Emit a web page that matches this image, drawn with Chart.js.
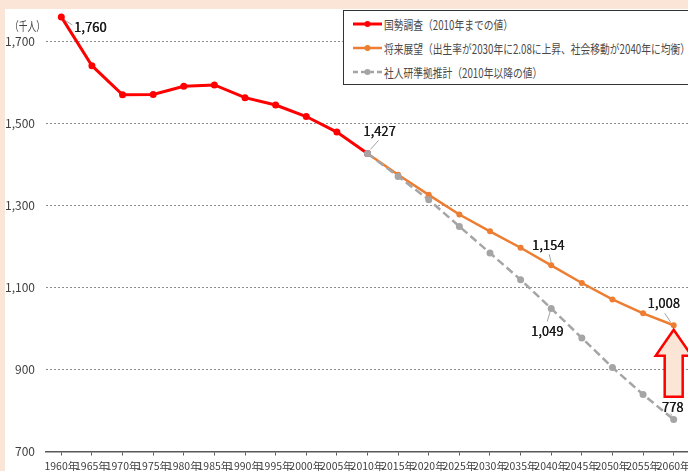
<!DOCTYPE html>
<html><head><meta charset="utf-8">
<script src="https://cdn.jsdelivr.net/npm/chart.js@4.4.1/dist/chart.umd.min.js"></script>
<style>
html,body{margin:0;padding:0;background:#fbe5d6;}
#wrap{position:relative;width:688px;height:471px;overflow:hidden;}
#c{position:absolute;left:0;top:0;}
#unit{position:absolute;left:10px;top:16px;font:12.5px 'Noto Sans CJK JP';color:#404040;white-space:nowrap;transform:scaleX(0.7);transform-origin:left center;}
#legend{position:absolute;left:343px;top:10px;width:360px;height:75px;border:1.5px solid #333;background:#fff;box-sizing:border-box;}
.row{position:absolute;left:9px;height:20px;display:flex;align-items:center;}
.row svg{flex:none;}
.txt{margin-left:2px;font:12.5px 'Noto Sans CJK JP';color:#4a4a4a;transform:scaleX(0.78);transform-origin:left center;white-space:nowrap;}
</style></head>
<body>
<div id="wrap">
<canvas id="c" width="693" height="471"></canvas>
<div id="unit">（千人）</div>
<div id="legend"></div>
</div>
<script>
const years = ['1960年','1965年','1970年','1975年','1980年','1985年','1990年','1995年','2000年','2005年','2010年','2015年','2020年','2025年','2030年','2035年','2040年','2045年','2050年','2055年','2060年'];
const censusLabel = '国勢調査（2010年までの値）';
const outlookLabel = '将来展望（出生率が2030年に2.08に上昇、社会移動が2040年に均衡）';
const ipssLabel = '社人研準拠推計（2010年以降の値）';
const census = [1760,1641,1570,1571,1591,1594,1563,1545,1517,1479,1427,null,null,null,null,null,null,null,null,null,null];
const outlook = [null,null,null,null,null,null,null,null,null,null,1427,1375,1326,1278,1237,1197,1154,1111,1071,1037,1008];
const ipss = [null,null,null,null,null,null,null,null,null,null,1427,1371,1314,1249,1184,1119,1049,977,905,839,778];
const yTicks = [700,900,1100,1300,1500,1700];

const RED='#ff0000', ORANGE='#ed7d31', GREY='#a5a5a5', PEACH='#fbe5d6';
const NARROW="'Liberation Sans Narrow','Noto Sans CJK JP',sans-serif";

// annotations: dataset index, point index, label offset, leader line (styles only)
const notes = [
  {ds:0,i:0,  dx:29, dy:10, l:[3,3,11,8]},
  {ds:0,i:10, dx:12, dy:-22,l:[3,-4,11,-13]},
  {ds:1,i:16, dx:-3, dy:-20,l:[0,-3,-2,-11]},
  {ds:1,i:20, dx:-10,dy:-22,l:[-3,-3,-9,-12]},
  {ds:2,i:16, dx:-4, dy:23, l:[-1,3,-4,13]},
  {ds:2,i:20, dx:-1, dy:-12,l:[-2,-4,-3,-6]}
];

const bgPlugin = {
  id:'bg',
  beforeDraw(chart){
    const c=chart.ctx; c.save();
    c.fillStyle=PEACH; c.fillRect(0,0,chart.width,chart.height);
    c.fillStyle='#fff'; c.fillRect(5,9,chart.width,chart.height);
    c.restore();
  }
};
const notePlugin = {
  id:'notes',
  afterDatasetsDraw(chart){
    const c=chart.ctx; c.save();
    const p = chart.getDatasetMeta(1).data[20];
    const x=p.x, y=p.y+4.5;
    c.beginPath();
    c.moveTo(x,y); c.lineTo(x+18,y+26); c.lineTo(x+9,y+26); c.lineTo(x+9,y+67);
    c.lineTo(x-9,y+67); c.lineTo(x-9,y+26); c.lineTo(x-18,y+26); c.closePath();
    c.fillStyle=PEACH; c.fill(); c.lineWidth=2.5; c.strokeStyle=RED; c.stroke();
    c.font="13px "+NARROW; c.textAlign='center'; c.textBaseline='middle';
    notes.forEach(n=>{
      const pt = chart.getDatasetMeta(n.ds).data[n.i];
      const v = chart.data.datasets[n.ds].data[n.i];
      c.strokeStyle='#8c8c8c'; c.lineWidth=0.8;
      c.beginPath(); c.moveTo(pt.x+n.l[0],pt.y+n.l[1]); c.lineTo(pt.x+n.l[2],pt.y+n.l[3]); c.stroke();
      c.fillStyle='#1a1a1a';
      c.fillText(v.toLocaleString('en-US'), pt.x+n.dx, pt.y+n.dy);
      c.fillText(v.toLocaleString('en-US'), pt.x+n.dx+0.3, pt.y+n.dy);
    });
    c.restore();
  }
};

const chart = new Chart(document.getElementById('c'), {
  type:'line',
  data:{
    labels:years,
    datasets:[
      {label:censusLabel,data:census,borderColor:RED,backgroundColor:RED,borderWidth:3,pointRadius:3.5,pointBorderWidth:0,pointBackgroundColor:RED,order:2},
      {label:outlookLabel,data:outlook,borderColor:ORANGE,backgroundColor:ORANGE,borderWidth:2.5,pointRadius:3,pointBorderWidth:0,pointBackgroundColor:ORANGE,order:1},
      {label:ipssLabel,data:ipss,borderColor:GREY,backgroundColor:GREY,borderWidth:2.5,borderDash:[8,4],pointRadius:3.5,pointBorderWidth:0,pointBackgroundColor:GREY,order:0}
    ]
  },
  options:{
    responsive:false, animation:false, spanGaps:false,
    layout:{padding:{left:0,right:0,top:8.7,bottom:0}},
    plugins:{legend:{display:false},tooltip:{enabled:false}},
    scales:{
      x:{
        type:'category', offset:true,
        grid:{display:true,drawOnChartArea:false,drawTicks:true,tickLength:4,color:'#595959',lineWidth:1},
        border:{display:true,color:'#595959',width:1.5},
        ticks:{autoSkip:false,maxRotation:0,minRotation:0,padding:4,color:'#404040',font:{family:NARROW,size:10.5}},
        afterFit(s){ s.height=19.5; s.paddingLeft=0; s.paddingRight=0; }
      },
      y:{
        type:'linear', min:700, max:1780,
        afterBuildTicks(s){ s.ticks = yTicks.map(v=>({value:v})); },
        afterFit(s){ s.width=46; s.paddingTop=0; s.paddingBottom=0; },
        grid:{drawTicks:false,lineWidth:1,color:ctx=>ctx.tick && ctx.tick.value===700?'rgba(0,0,0,0)':'#8c8c8c'},
        border:{display:false,dash:[2,2]},
        ticks:{padding:11,color:'#404040',font:{family:NARROW,size:12},callback:v=>v.toLocaleString('en-US')}
      }
    }
  },
  plugins:[bgPlugin,notePlugin]
});

const lg=document.getElementById('legend');
chart.data.datasets.forEach((d,k)=>{
  const row=document.createElement('div'); row.className='row';
  row.style.top=(3+k*24)+'px';
  const dash = d.borderDash ? 'stroke-dasharray="5 3"' : '';
  row.innerHTML='<svg width="29" height="10"><line x1="0" y1="5" x2="29" y2="5" stroke="'+d.borderColor+'" stroke-width="'+(k===0?3:2.5)+'" '+dash+'/><circle cx="14.5" cy="5" r="3" fill="'+d.borderColor+'"/></svg><span class="txt"></span>';
  row.querySelector('.txt').textContent=d.label;
  lg.appendChild(row);
});
</script>
</body></html>
